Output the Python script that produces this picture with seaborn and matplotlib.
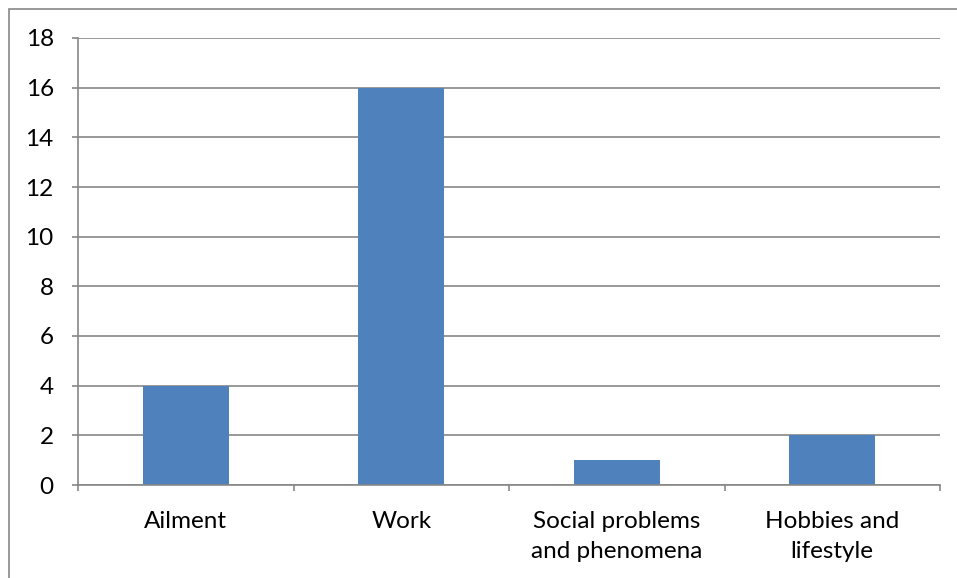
import numpy as np
import pandas as pd
import matplotlib
matplotlib.use('Agg')
import matplotlib.pyplot as plt
from matplotlib.patches import Rectangle
import seaborn as sns

# data
categories = ['Ailment', 'Work', 'Social problems\nand phenomena', 'Hobbies and\nlifestyle']
counts = [4, 16, 1, 2]
y_ticks = [0, 2, 4, 6, 8, 10, 12, 14, 16, 18]

df = pd.DataFrame({'category': categories, 'count': counts})

sns.set_style('white')
plt.rcParams['font.family'] = ['Lato', 'DejaVu Sans']

grey = '#878787'

fig = plt.figure(figsize=(9.57, 5.78), dpi=100)
ax = fig.add_axes([78 / 957, 1 - 485 / 578, (940 - 78) / 957, (485 - 38) / 578])

sns.barplot(data=df, x='category', y='count', color='#4F81BD', width=0.4,
            saturation=1, linewidth=0, ax=ax, zorder=3)

ax.set_ylim(0, 18)
ax.set_xlim(-0.5, len(categories) - 0.5)
ax.set_yticks(y_ticks)
ax.set_yticklabels([str(v) for v in y_ticks], fontsize=17.5, color='black')
ax.set_xticks(range(len(categories)))
ax.set_xticklabels(categories, fontsize=17.5, color='black', linespacing=1.55)
ax.set_xticks(np.arange(-0.5, len(categories)), minor=True)
ax.tick_params(axis='x', which='major', bottom=True, length=0, pad=18.5)
ax.tick_params(axis='x', which='minor', bottom=True, length=4.5, width=1.2,
               color=grey, direction='out')
ax.tick_params(axis='y', left=True, length=4.5, width=1.2, color=grey,
               direction='out', pad=13)
ax.set_xlabel('')
ax.set_ylabel('')

ax.yaxis.grid(True, color=grey, linewidth=1.2, zorder=0)
ax.set_axisbelow(True)
for side in ['top', 'right']:
    ax.spines[side].set_visible(False)
for side in ['left', 'bottom']:
    ax.spines[side].set_color(grey)
    ax.spines[side].set_linewidth(1.2)
    ax.spines[side].set_zorder(4)

# outer chart frame (cut off at right and bottom in the original)
fig.patches.append(Rectangle((9 / 957, -0.1), 1.2, 1 - 9 / 578 + 0.1,
                             transform=fig.transFigure, fill=False,
                             edgecolor=grey, linewidth=1.2))

fig.savefig('out.png', dpi=100)
